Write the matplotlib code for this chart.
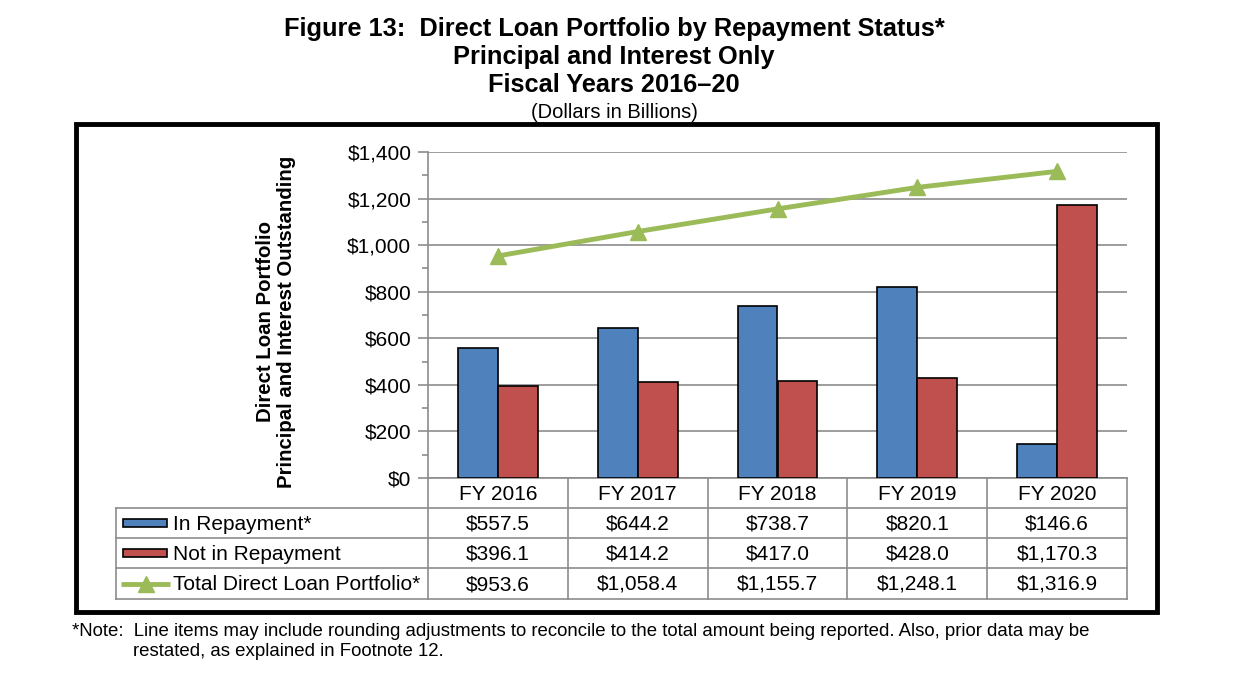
import matplotlib
matplotlib.use("Agg")
import matplotlib.pyplot as plt
from matplotlib.patches import Rectangle

plt.rcParams["font.family"] = ["Liberation Sans", "DejaVu Sans"]

years = ["FY 2016", "FY 2017", "FY 2018", "FY 2019", "FY 2020"]
in_repayment = [557.5, 644.2, 738.7, 820.1, 146.6]
not_in_repayment = [396.1, 414.2, 417.0, 428.0, 1170.3]
total_portfolio = [953.6, 1058.4, 1155.7, 1248.1, 1316.9]
series_names = ["In Repayment*", "Not in Repayment", "Total Direct Loan Portfolio*"]

BLUE = "#4F81BD"
RED = "#C0504D"
GREEN = "#9BBB59"
GRID = "#8C8C8C"

W, H = 1242, 677
fig = plt.figure(figsize=(W / 100, H / 100), dpi=100)

# overlay in pixel coords for box, table, titles
ov = fig.add_axes([0, 0, 1, 1])
ov.set_xlim(0, W)
ov.set_ylim(H, 0)
ov.axis("off")

ax_l, ax_r, ax_t, ax_b = 428, 1127, 152, 478
ax = fig.add_axes([ax_l / W, (H - ax_b) / H, (ax_r - ax_l) / W, (ax_b - ax_t) / H])

x = list(range(len(years)))
bw = 0.285
ax.bar([i - bw / 2 for i in x], in_repayment, bw, color=BLUE, edgecolor="black", linewidth=1.2, zorder=3)
ax.bar([i + bw / 2 for i in x], not_in_repayment, bw, color=RED, edgecolor="black", linewidth=1.2, zorder=3)
ax.plot(x, total_portfolio, color=GREEN, linewidth=3.5, marker="^", markersize=12, zorder=4)

ax.set_xlim(-0.5, len(years) - 0.5)
ax.set_ylim(0, 1400)
ax.set_yticks(range(0, 1401, 200))
ax.set_yticks(range(100, 1400, 200), minor=True)
ax.set_yticklabels([f"${v:,}" for v in range(0, 1401, 200)], fontsize=15)
ax.yaxis.grid(True, color=GRID, linewidth=1.2, zorder=0)
ax.set_xticks([])
for s in ["top", "right"]:
    ax.spines[s].set_visible(False)
for s in ["left", "bottom"]:
    ax.spines[s].set_color(GRID)
    ax.spines[s].set_linewidth(1.2)
ax.tick_params(axis="y", which="major", length=7, color=GRID, width=1.2, pad=5)
ax.tick_params(axis="y", which="minor", length=4, color=GRID, width=1.2)

# y label
ov.text(276, 322, "Direct Loan Portfolio\nPrincipal and Interest Outstanding", rotation=90,
        ha="center", va="center", fontsize=14.7, fontweight="bold", linespacing=1.1)

# data table
col_w = (ax_r - ax_l) / len(years)
rows = [478, 508, 538, 568, 599]
tkw = dict(color=GRID, linewidth=1.2)
for i in range(len(years) + 1):
    xx = ax_l + i * col_w
    ov.plot([xx, xx], [rows[0], rows[-1]], **tkw)
ov.plot([116, 116], [rows[1], rows[-1]], **tkw)
for yy in rows[1:]:
    ov.plot([116, ax_r], [yy, yy], **tkw)

for i, yr in enumerate(years):
    cx = ax_l + (i + 0.5) * col_w
    ov.text(cx, (rows[0] + rows[1]) / 2 + 1, yr, ha="center", va="center", fontsize=15)
    for r, vals in enumerate([in_repayment, not_in_repayment, total_portfolio]):
        ov.text(cx, (rows[r + 1] + rows[r + 2]) / 2 + 1, f"${vals[i]:,.1f}", ha="center", va="center", fontsize=15)

for r, name in enumerate(series_names):
    cy = (rows[r + 1] + rows[r + 2]) / 2
    ov.text(173, cy + 1, name, ha="left", va="center", fontsize=15)
ov.add_patch(Rectangle((123, (rows[1] + rows[2]) / 2 - 4), 44, 8, facecolor=BLUE, edgecolor="black", linewidth=1.2))
ov.add_patch(Rectangle((123, (rows[2] + rows[3]) / 2 - 4), 44, 8, facecolor=RED, edgecolor="black", linewidth=1.2))
ly = (rows[3] + rows[4]) / 2
ov.plot([121, 170], [ly, ly], color=GREEN, linewidth=3.5, solid_capstyle="butt")
ov.plot([145.5], [ly], marker="^", color=GREEN, markersize=11)

# outer box
ov.add_patch(Rectangle((76, 124), 1081, 488, fill=False, edgecolor="black", linewidth=3.5))

# titles
ov.text(614, 29, "Figure 13:  Direct Loan Portfolio by Repayment Status*", ha="center", va="center",
        fontsize=18.3, fontweight="bold")
ov.text(614, 57, "Principal and Interest Only", ha="center", va="center", fontsize=18.3, fontweight="bold")
ov.text(614, 85, "Fiscal Years 2016\u201320", ha="center", va="center", fontsize=18.3, fontweight="bold")
ov.text(614, 112, "(Dollars in Billions)", ha="center", va="center", fontsize=14.5)

# footnote
ov.text(72, 632, "*Note:  Line items may include rounding adjustments to reconcile to the total amount being reported. Also, prior data may be",
        ha="left", va="center", fontsize=13.4)
ov.text(133, 652, "restated, as explained in Footnote 12.", ha="left", va="center", fontsize=13.4)

fig.savefig("out.png", dpi=100)
